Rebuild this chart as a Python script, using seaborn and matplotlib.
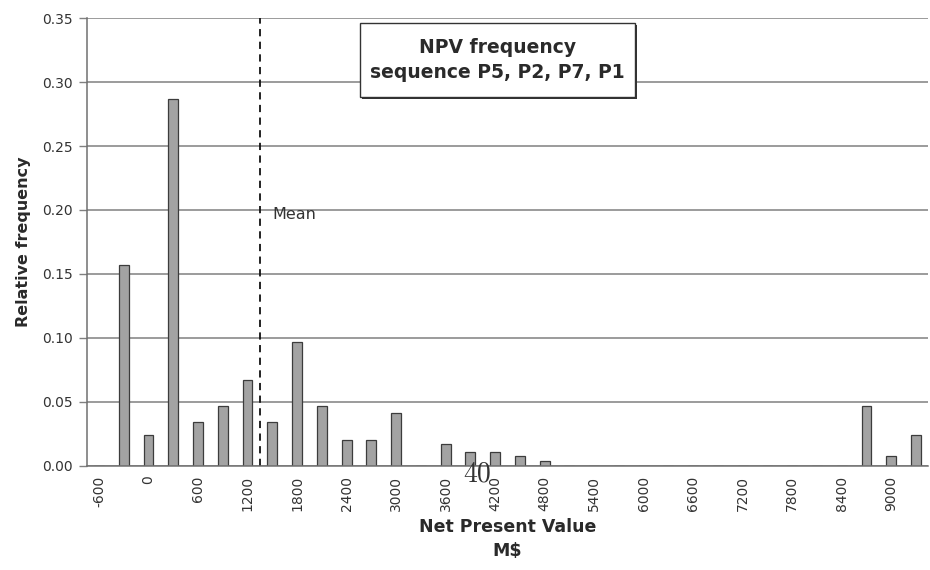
import numpy as np
import pandas as pd
import matplotlib
matplotlib.use("Agg")
import matplotlib.pyplot as plt
import seaborn as sns
from matplotlib.patches import FancyBboxPatch

# NPV classes (M$) and relative frequency
npv_class = list(range(-600, 9301, 300))
rel_freq = [0.0, 0.157, 0.024, 0.287, 0.034, 0.047, 0.067, 0.034, 0.097, 0.047,
            0.020, 0.020, 0.041, 0.0, 0.017, 0.011, 0.011, 0.0075, 0.0035,
            0.0, 0.0, 0.0, 0.0, 0.0, 0.0, 0.0, 0.0, 0.0, 0.0, 0.0, 0.0,
            0.047, 0.0075, 0.024]
mean_pos = 6.5  # between the 1200 and 1500 classes
yticks = [0.0, 0.05, 0.10, 0.15, 0.20, 0.25, 0.30, 0.35]

df = pd.DataFrame({"npv": [str(v) for v in npv_class], "freq": rel_freq})

sns.set_style("white")
plt.rcParams["font.family"] = ["DejaVu Sans"]

fig = plt.figure(figsize=(9.3, 5.7), dpi=100)
ax = fig.add_axes([0.0931, 0.1825, 0.9052, 0.7859])

sns.barplot(data=df, x="npv", y="freq", order=df["npv"], color="#a3a3a3",
            saturation=1, width=0.4, edgecolor="#3c3c3c", linewidth=0.9, ax=ax)

ax.set_xlim(-0.5, len(npv_class) - 0.5)
ax.set_ylim(0, 0.35)
ax.set_yticks(yticks)
ax.set_yticklabels([f"{t:.2f}" for t in yticks], fontsize=10, color="#333333")
ax.yaxis.grid(True, color="#808080", linewidth=1.1)
ax.set_axisbelow(True)

idx = np.arange(len(npv_class))
ax.set_xticks(idx[::2])
ax.set_xticklabels([str(v) for v in npv_class[::2]], rotation=90,
                   fontsize=10, color="#333333")
ax.set_xticks(np.arange(-0.5, len(npv_class), 1), minor=True)
ax.tick_params(axis="x", which="major", length=0, pad=7)
ax.tick_params(axis="x", which="minor", length=4, color="#555555", width=1)
ax.tick_params(axis="y", length=6, color="#808080", width=1, left=True, pad=4)

for s in ["top", "right"]:
    ax.spines[s].set_visible(False)
for s in ["left", "bottom"]:
    ax.spines[s].set_color("#707070")
    ax.spines[s].set_linewidth(1.1)

ax.set_xlabel("Net Present Value\nM$", fontsize=12.5, fontweight="bold",
              color="#2a2a2a", labelpad=5, linespacing=1.45)
ax.set_ylabel("Relative frequency", fontsize=11.5, fontweight="bold",
              color="#2a2a2a", labelpad=8)

ax.axvline(mean_pos, color="#111111", linestyle=(0, (4, 3)), linewidth=1.3)
ax.text(mean_pos + 0.52, 0.193, "Mean", fontsize=11.5, color="#333333")

# title box with shadow
bx, by, bw, bh = 360 / 930, 1 - 97 / 570, 275 / 930, 74 / 570
shadow = FancyBboxPatch((bx + 2 / 930, by - 2 / 570), bw, bh, boxstyle="square,pad=0",
                        transform=fig.transFigure, facecolor="#333333",
                        edgecolor="none", zorder=5)
box = FancyBboxPatch((bx, by), bw, bh, boxstyle="square,pad=0",
                     transform=fig.transFigure, facecolor="white",
                     edgecolor="#333333", linewidth=1, zorder=6)
fig.patches.extend([shadow, box])
fig.text(bx + bw / 2, by + bh / 2, "NPV frequency\nsequence P5, P2, P7, P1",
         ha="center", va="center", fontsize=13.5, fontweight="bold",
         color="#2a2a2a", linespacing=1.45, zorder=7)

# page number from the scanned source
fig.text(477 / 930, 1 - 474 / 570, "40", ha="center", va="center",
         fontsize=20, family="cmr10", color="#333333")

fig.savefig("out.png", dpi=100)
